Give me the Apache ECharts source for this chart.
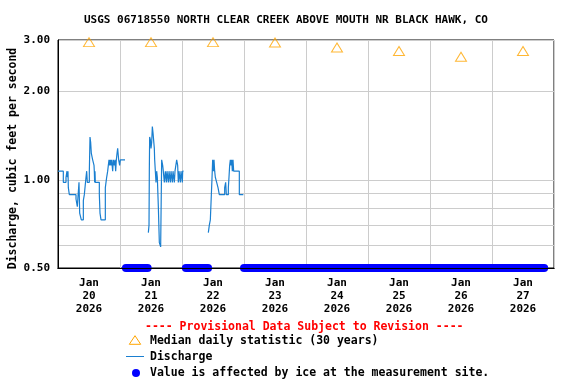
<!DOCTYPE html>
<html><head><meta charset="utf-8">
<script src="https://cdn.jsdelivr.net/npm/echarts@6/dist/echarts.min.js"></script>
<style>html,body{margin:0;padding:0;background:#fff}#c{width:576px;height:384px}</style>
</head><body><div id="c"></div>
<script>
const titleText = 'USGS 06718550 NORTH CLEAR CREEK ABOVE MOUTH NR BLACK HAWK, CO';
const yAxisTitle = 'Discharge, cubic feet per second';
const dayLabels = ['Jan\n20\n2026','Jan\n21\n2026','Jan\n22\n2026','Jan\n23\n2026','Jan\n24\n2026','Jan\n25\n2026','Jan\n26\n2026','Jan\n27\n2026'];
const dayLabelHours = [12, 36, 60, 84, 108, 132, 156, 180];
const yTickValues = [0.5, 1, 2, 3];
const yGridValues = [0.5, 0.6, 0.7, 0.8, 0.9, 1, 2, 3];
const medianHours = [12, 36, 60, 84, 108, 132, 156, 180];
const medianValues = [2.95, 2.95, 2.95, 2.94, 2.83, 2.75, 2.63, 2.75];
// hours since 2026-01-20 00:00 ; null marks a gap in the record
const dischargeHours = [
 0,2.06,3.10,3.48,3.68,3.87,4.00,4.39,6.97,7.48,8.13,8.39,9.03,9.81,10.19,10.84,11.10,11.35,12.13,12.39,12.65,12.90,13.42,13.94,14.06,14.19,14.32,14.45,16.0,16.26,16.65,18.32,18.58,18.84,19.23,19.48,19.74,20.0,20.26,20.52,20.77,21.16,21.42,21.81,22.06,22.32,22.58,22.84,23.10,23.48,23.87,24.13,25.94,26.0,
 34.97,35.23,35.35,35.48,35.74,36.0,36.26,36.52,36.77,37.03,37.29,37.42,37.68,37.94,38.19,38.45,38.84,39.23,39.74,40.13,40.52,40.77,41.16,41.55,41.94,42.19,42.71,42.97,43.48,43.74,44.26,44.52,45.03,45.29,45.94,46.32,46.58,46.84,47.35,47.61,48.13,48.26,48.52,48.6,
 58.19,58.58,58.97,59.61,59.87,60.13,60.39,60.65,60.90,61.42,61.94,62.45,64.52,64.90,65.16,65.94,66.19,66.45,66.71,66.97,67.23,67.48,67.74,68.0,70.19,71.74,71.8
];
const dischargeValues = [
 1.07,0.98,1.02,1.07,1.02,1.07,0.94,0.89,0.86,0.81,0.98,0.77,0.73,0.85,0.89,1.02,1.07,0.98,1.07,1.40,1.34,1.23,1.17,1.12,1.07,0.98,1.07,0.98,0.89,0.77,0.73,0.94,0.98,1.02,1.07,1.12,1.17,1.12,1.17,1.12,1.17,1.07,1.17,1.12,1.17,1.07,1.17,1.23,1.28,1.17,1.12,1.17,1.17,null,
 0.66,0.70,1.07,1.40,1.37,1.28,1.34,1.52,1.45,1.36,1.28,1.17,1.07,0.98,1.07,1.02,0.81,0.61,0.59,1.17,1.12,1.07,0.98,1.07,0.98,1.07,0.98,1.07,0.98,1.07,0.98,1.07,0.98,1.07,1.17,1.12,0.98,1.07,0.98,1.07,0.98,1.07,1.07,null,
 0.66,0.70,0.73,1.01,1.17,1.07,1.17,1.07,1.02,0.98,0.94,0.89,0.94,0.98,0.89,0.94,1.02,1.12,1.17,1.12,1.17,1.07,1.17,1.07,0.89,0.89,null
];
const iceStartHours = [26.3, 49.5, 72.0];
const iceEndHours = [34.7, 58.1, 188.2];
const iceValue = 0.5;

const FONT = 'DejaVu Sans Mono';
const blue = '#1a7fd0';
const L = Math.log;

const series = [];
series.push({
  type: 'line', name: 'Discharge', step: 'end', showSymbol: false, z: 3,
  lineStyle: { color: blue, width: 1.2 }, itemStyle: { color: blue },
  connectNulls: false,
  data: dischargeHours.map((h, i) => [h, dischargeValues[i] == null ? '-' : L(dischargeValues[i])])
});
for (let i = 0; i < iceStartHours.length; i++) {
  series.push({
    type: 'line', name: 'Ice', showSymbol: false, clip: false, z: 2, silent: true,
    lineStyle: { color: '#0000ff', width: 8, cap: 'round' },
    data: [[iceStartHours[i], L(iceValue)], [iceEndHours[i], L(iceValue)]]
  });
}
series.push({
  type: 'scatter', name: 'Median', symbol: 'triangle', symbolSize: [11, 9], z: 4,
  itemStyle: { color: 'rgba(0,0,0,0)', borderColor: '#ffa500', borderWidth: 1 },
  data: medianHours.map((h, i) => [h, L(medianValues[i])])
});

const txt = (x, y, text, fill, size) => ({
  type: 'text', x: x, y: y, silent: true,
  style: { text: text, fill: fill || '#000', font: 'bold ' + (size || 11.5) + 'px "' + FONT + '"', align: 'left', verticalAlign: 'middle' }
});

const option = {
  animation: false,
  backgroundColor: '#fff',
  title: { text: titleText, left: 84, top: 15, padding: 0,
    textStyle: { fontFamily: FONT, fontWeight: 'bold', fontSize: 11, color: '#000' } },
  grid: { left: 58, top: 40, width: 496, height: 228, show: true, borderColor: '#000', borderWidth: 1, backgroundColor: '#fff' },
  xAxis: [{
    type: 'value', min: 0, max: 192, interval: 24,
    axisLine: { show: true, onZero: false, lineStyle: { color: '#000', width: 1 } },
    axisTick: { show: false },
    splitLine: { show: true, lineStyle: { color: '#cccccc', width: 1 } },
    axisLabel: { customValues: dayLabelHours, margin: 9, color: '#000', fontFamily: FONT, fontWeight: 'bold', fontSize: 11, lineHeight: 13,
      formatter: v => { const k = dayLabelHours.indexOf(v); return k < 0 ? '' : dayLabels[k]; } }
  }, {
    type: 'value', min: 0, max: 192, position: 'bottom', z: 10,
    axisLine: { show: true, onZero: false, lineStyle: { color: '#000', width: 1 } },
    axisTick: { show: false }, splitLine: { show: false }, axisLabel: { show: false }
  }],
  yAxis: {
    type: 'value', min: L(0.5), max: L(3),
    axisLine: { show: true, onZero: false, lineStyle: { color: '#000' } },
    axisTick: { show: false, customValues: yGridValues.map(L) },
    splitLine: { show: true, lineStyle: { color: '#cccccc', width: 1 } },
    axisLabel: { customValues: yTickValues.map(L), margin: 8, color: '#000', fontFamily: FONT, fontWeight: 'bold', fontSize: 11,
      formatter: v => Math.exp(v).toFixed(2) }
  },
  series: series,
  graphic: [
    { type: 'text', x: 13, y: 158.5, rotation: Math.PI / 2, silent: true,
      style: { text: yAxisTitle, fill: '#000', font: 'bold 11.5px "' + FONT + '"', align: 'center', verticalAlign: 'middle' } },
    txt(145, 327, '---- Provisional Data Subject to Revision ----', '#ff0000'),
    { type: 'polygon', silent: true, shape: { points: [[135, 335.7], [140.7, 344.3], [129.3, 344.3]] },
      style: { fill: 'none', stroke: '#ffa500', lineWidth: 1 } },
    txt(150, 341, 'Median daily statistic (30 years)'),
    { type: 'line', silent: true, shape: { x1: 126, y1: 356.5, x2: 144, y2: 356.5 }, style: { stroke: blue, lineWidth: 1 } },
    txt(150, 357, 'Discharge'),
    { type: 'circle', silent: true, shape: { cx: 136, cy: 373, r: 4 }, style: { fill: '#0000ff' } },
    txt(150, 373, 'Value is affected by ice at the measurement site.')
  ]
};
const chart = echarts.init(document.getElementById('c'), null, { renderer: 'canvas' });
chart.setOption(option);
</script>
</body></html>
